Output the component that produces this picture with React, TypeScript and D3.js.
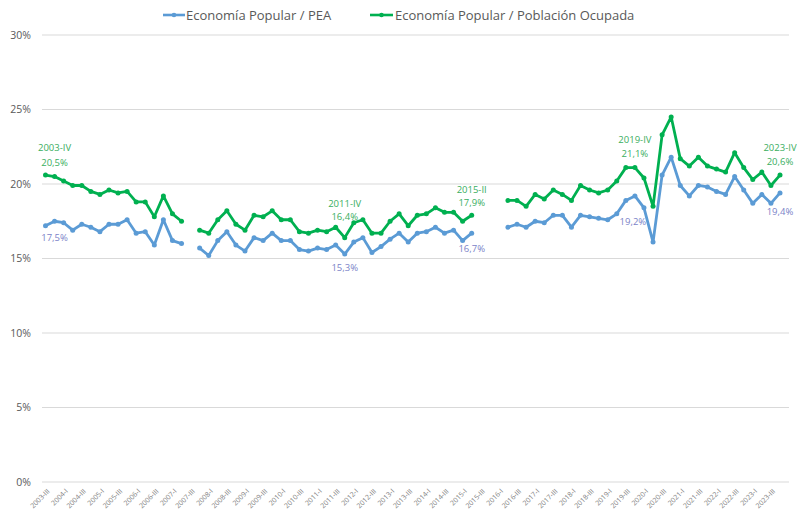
import * as d3 from 'd3';

const quarters = [
  '2003-III', '2003-IV',
  '2004-I', '2004-II', '2004-III', '2004-IV',
  '2005-I', '2005-II', '2005-III', '2005-IV',
  '2006-I', '2006-II', '2006-III', '2006-IV',
  '2007-I', '2007-II', '2007-III', '2007-IV',
  '2008-I', '2008-II', '2008-III', '2008-IV',
  '2009-I', '2009-II', '2009-III', '2009-IV',
  '2010-I', '2010-II', '2010-III', '2010-IV',
  '2011-I', '2011-II', '2011-III', '2011-IV',
  '2012-I', '2012-II', '2012-III', '2012-IV',
  '2013-I', '2013-II', '2013-III', '2013-IV',
  '2014-I', '2014-II', '2014-III', '2014-IV',
  '2015-I', '2015-II', '2015-III', '2015-IV',
  '2016-I', '2016-II', '2016-III', '2016-IV',
  '2017-I', '2017-II', '2017-III', '2017-IV',
  '2018-I', '2018-II', '2018-III', '2018-IV',
  '2019-I', '2019-II', '2019-III', '2019-IV',
  '2020-I', '2020-II', '2020-III', '2020-IV',
  '2021-I', '2021-II', '2021-III', '2021-IV',
  '2022-I', '2022-II', '2022-III', '2022-IV',
  '2023-I', '2023-II', '2023-III', '2023-IV',
];

// % sobre PEA (azul)
const pea: (number | null)[] = [
  17.2, 17.5,
  17.4, 16.9, 17.3, 17.1,
  16.8, 17.3, 17.3, 17.6,
  16.7, 16.8, 15.9, 17.6,
  16.2, 16.0, null, 15.7,
  15.2, 16.2, 16.8, 15.9,
  15.5, 16.4, 16.2, 16.7,
  16.2, 16.2, 15.6, 15.5,
  15.7, 15.6, 15.9, 15.3,
  16.1, 16.4, 15.4, 15.8,
  16.3, 16.7, 16.1, 16.7,
  16.8, 17.1, 16.7, 16.9,
  16.2, 16.7, null, null,
  null, 17.1, 17.3, 17.1,
  17.5, 17.4, 17.9, 17.9,
  17.1, 17.9, 17.8, 17.7,
  17.6, 18.0, 18.9, 19.2,
  18.4, 16.1, 20.6, 21.8,
  19.9, 19.2, 19.9, 19.8,
  19.5, 19.3, 20.5, 19.6,
  18.7, 19.3, 18.7, 19.4,
];

// % sobre población ocupada (verde)
const ocupada: (number | null)[] = [
  20.6, 20.5,
  20.2, 19.9, 19.9, 19.5,
  19.3, 19.6, 19.4, 19.5,
  18.8, 18.8, 17.8, 19.2,
  18.0, 17.5, null, 16.9,
  16.7, 17.6, 18.2, 17.3,
  16.9, 17.9, 17.8, 18.2,
  17.6, 17.6, 16.8, 16.7,
  16.9, 16.8, 17.1, 16.4,
  17.4, 17.6, 16.7, 16.7,
  17.5, 18.0, 17.2, 17.9,
  18.0, 18.4, 18.1, 18.1,
  17.5, 17.9, null, null,
  null, 18.9, 18.9, 18.5,
  19.3, 19.0, 19.6, 19.3,
  18.9, 19.9, 19.6, 19.4,
  19.6, 20.2, 21.1, 21.1,
  20.4, 18.5, 23.3, 24.5,
  21.7, 21.2, 21.8, 21.2,
  21.0, 20.8, 22.1, 21.1,
  20.3, 20.8, 19.9, 20.6,
];

const yTicks = [0, 5, 10, 15, 20, 25, 30];

const seriesNames = ['Economía Popular / PEA', 'Economía Popular / Población Ocupada'];

// etiquetas destacadas
const highlightQuarters = ['2003-IV', '2011-IV', '2015-II', '2019-IV', '2023-IV'];
const highlightOcupada = ['20,5%', '16,4%', '17,9%', '21,1%', '20,6%'];
const highlightPea = ['17,5%', '15,3%', '16,7%', '19,2%', '19,4%'];

const BLUE = '#5b9bd5';
const GREEN = '#00b050';
const FONT = '"Open Sans", "DejaVu Sans", sans-serif';

export default function App() {
  const width = 797;
  const height = 516;
  const gridLeft = 42;
  const gridRight = 789;

  const x = d3.scalePoint<string>().domain(quarters).range([45.5, 780]);
  const y = d3.scaleLinear().domain([0, 30]).range([482, 35]);

  const line = d3
    .line<number | null>()
    .defined((d) => d != null)
    .x((_, i) => x(quarters[i])!)
    .y((d) => y(d as number));

  const series = [
    { name: seriesNames[0], values: pea, color: BLUE },
    { name: seriesNames[1], values: ocupada, color: GREEN },
  ];

  // desplazamientos de las etiquetas (px): [fila trimestre, fila valor]
  const greenOffsets = [
    [-28.5, -14],
    [-34, -20.5],
    [-26, -12.5],
    [-27.5, -14],
    [-27, -13.5],
  ];
  const blueOffsets = [
    [0, 16],
    [0, 14],
    [0, 16],
    [-2, 26],
    [0, 19],
  ];

  return (
    <svg width={width} height={height} style={{ position: 'absolute', left: 0, top: 0, background: '#fff' }}>
      {/* grilla */}
      {yTicks.map((t) => (
        <g key={t}>
          <line x1={gridLeft} x2={gridRight} y1={y(t)} y2={y(t)} stroke="#d9d9d9" strokeWidth={1} />
          <text x={31} y={y(t)} dy="0.35em" textAnchor="end" fontSize={10.5} fill="#595959" fontFamily={FONT}>
            {t}%
          </text>
        </g>
      ))}

      {/* eje x */}
      {quarters
        .filter((_, i) => i % 2 === 0)
        .map((q) => (
          <text
            key={q}
            transform={`translate(${x(q)! + 3},${490}) rotate(-45)`}
            textAnchor="end"
            dy="0.35em"
            fontSize={7}
            fill="#7f7f7f"
            fontFamily={FONT}
          >
            {q}
          </text>
        ))}

      {/* series */}
      {series.map((s) => (
        <g key={s.name}>
          <path d={line(s.values) || ''} fill="none" stroke={s.color} strokeWidth={2.8} strokeLinejoin="round" />
          {s.values.map((v, i) =>
            v == null ? null : <circle key={i} cx={x(quarters[i])} cy={y(v)} r={2.5} fill={s.color} />
          )}
        </g>
      ))}

      {/* etiquetas */}
      {highlightQuarters.map((q, k) => {
        const i = quarters.indexOf(q);
        const cx = x(q)!;
        const gy = y(ocupada[i] as number);
        const by = y(pea[i] as number);
        return (
          <g key={q} fontFamily={FONT} fontSize={9.5} textAnchor="middle">
            <text x={cx} y={gy + greenOffsets[k][0]} dy="0.35em" fill="#3aae5e">
              {q}
            </text>
            <text x={cx} y={gy + greenOffsets[k][1]} dy="0.35em" fill="#3aae5e">
              {highlightOcupada[k]}
            </text>
            <text x={cx + blueOffsets[k][0]} y={by + blueOffsets[k][1]} dy="0.35em" fill="#7b83c8">
              {highlightPea[k]}
            </text>
          </g>
        );
      })}

      {/* leyenda */}
      <g fontFamily={FONT} fontSize={13} fill="#595959">
        <line x1={163} x2={185} y1={15} y2={15} stroke={BLUE} strokeWidth={2.6} />
        <circle cx={174} cy={15} r={2.3} fill={BLUE} />
        <text x={186} y={15} dy="0.35em">
          {seriesNames[0]}
        </text>
        <line x1={370} x2={393} y1={15} y2={15} stroke={GREEN} strokeWidth={2.6} />
        <circle cx={381.5} cy={15} r={2.3} fill={GREEN} />
        <text x={395} y={15} dy="0.35em">
          {seriesNames[1]}
        </text>
      </g>
    </svg>
  );
}
